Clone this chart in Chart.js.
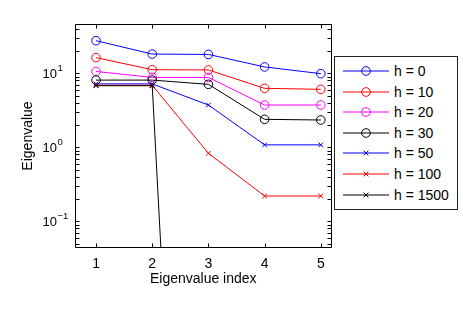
<!DOCTYPE html>
<html>
<head>
<meta charset="utf-8">
<script src="https://cdn.jsdelivr.net/npm/chart.js@4.4.1/dist/chart.umd.min.js"></script>
<style>
html, body { margin: 0; padding: 0; background: #fff; }
#wrap { position: relative; width: 463px; height: 310px; }
#legend {
    position: absolute; left: 334px; top: 56px; width: 122px; height: 152px;
    border: 1px solid #222; background: #fff;
    font-family: "Liberation Sans", Arial, sans-serif; font-size: 14px; color: #000;
}
.row { position: absolute; left: 0; height: 20px; width: 122px; }
.row svg { position: absolute; left: 8px; top: 0; }
.row span { position: absolute; left: 59px; top: 1px; line-height: 18px; white-space: nowrap; }
</style>
</head>
<body>
<div id="wrap">
    <canvas id="eigChart" width="463" height="310"></canvas>
    <div id="legend"></div>
</div>
<script>
// eigenvalues per h
const indices = [1, 2, 3, 4, 5];
const labels = ['h = 0', 'h = 10', 'h = 20', 'h = 30', 'h = 50', 'h = 100', 'h = 1500'];
const h0 = [27.6, 18.2, 18.0, 12.2, 9.9];
const h10 = [16.3, 11.2, 11.1, 6.27, 6.08];
const h20 = [10.6, 8.8, 8.8, 3.73, 3.73];
const h30 = [8.1, 8.1, 7.1, 2.39, 2.34];
const h50 = [7.2, 7.2, 3.73, 1.08, 1.08];
const h100 = [6.9, 6.9, 0.83, 0.22, 0.22];
const h1500 = [6.8, 6.8, 4e-14, 3e-14, 3e-14];
const colors = ['#0000ff', '#ff0000', '#ff00ff', '#000000', '#0000ff', '#ff0000', '#000000'];
const markers = ['circle', 'circle', 'circle', 'circle', 'crossRot', 'crossRot', 'crossRot'];

const xTicks = [1, 2, 3, 4, 5];
const yTicks = [0.1, 1, 10];
const xMin = 0.626, xMax = 5.19;
const yMin = 0.0436, yMax = 46.4;

const FONT = '"Liberation Sans", Arial, sans-serif';
const allSeries = [h0, h10, h20, h30, h50, h100, h1500];

// box, inward ticks, and 10^n labels like the matlab axes
const axesBox = {
    id: 'axesBox',
    afterDatasetsDraw(chart) {
        const { ctx, chartArea: a, scales: { x, y } } = chart;
        const L = Math.round(a.left) + 0.5, R = Math.round(a.right) - 0.5;
        const T = Math.round(a.top) + 0.5, B = Math.round(a.bottom) - 0.5;
        const tl = 4;
        ctx.save();
        ctx.strokeStyle = '#000';
        ctx.lineWidth = 1;
        ctx.beginPath();
        ctx.rect(L, T, R - L, B - T);
        xTicks.forEach(v => {
            const px = Math.round(x.getPixelForValue(v)) + 0.5;
            ctx.moveTo(px, B); ctx.lineTo(px, B - tl);
            ctx.moveTo(px, T); ctx.lineTo(px, T + tl);
        });
        for (let e = -2; e <= 1; e++) {
            for (let m = 1; m <= 9; m++) {
                const v = m * Math.pow(10, e);
                if (v < yMin || v > yMax) continue;
                const py = Math.round(y.getPixelForValue(v)) + 0.5;
                ctx.moveTo(L, py); ctx.lineTo(L + tl, py);
                ctx.moveTo(R, py); ctx.lineTo(R - tl, py);
            }
        }
        ctx.stroke();

        ctx.fillStyle = '#000';
        ctx.textAlign = 'left';
        ctx.textBaseline = 'alphabetic';
        yTicks.forEach(v => {
            const py = y.getPixelForValue(v);
            const exp = Math.round(Math.log10(v));
            const base = '10';
            ctx.font = '13px ' + FONT;
            const bx = 42.5;
            ctx.fillText(base, bx, py + 4.6);
            const w = ctx.measureText(base).width;
            ctx.font = '9.5px ' + FONT;
            ctx.fillText(exp < 0 ? '\u2212' + Math.abs(exp) : String(exp), bx + w + 0.5, py - 2.4);
        });
        ctx.restore();
    }
};

const datasets = allSeries.map((vals, i) => ({
    label: labels[i],
    data: vals,
    borderColor: colors[i],
    backgroundColor: 'rgba(0,0,0,0)',
    borderWidth: 1,
    pointStyle: markers[i],
    pointRadius: markers[i] === 'circle' ? 4.3 : 3.4,
    pointBorderWidth: 1,
    pointBorderColor: colors[i],
    pointBackgroundColor: 'rgba(0,0,0,0)',
    tension: 0,
    fill: false,
    clip: 0,
    order: allSeries.length - 1 - i
}));

new Chart(document.getElementById('eigChart'), {
    type: 'line',
    data: { labels: indices, datasets: datasets },
    options: {
        responsive: false,
        animation: false,
        events: [],
        layout: { padding: { left: 0, right: 131.5, top: 24, bottom: 0 } },
        plugins: { legend: { display: false }, tooltip: { enabled: false } },
        scales: {
            x: {
                type: 'linear',
                min: xMin, max: xMax,
                afterBuildTicks: s => { s.ticks = xTicks.map(v => ({ value: v })); },
                afterFit: s => { s.height = 62; },
                grid: { display: false, drawTicks: false },
                border: { display: false },
                ticks: { color: '#000', font: { family: FONT, size: 14 }, padding: 8, maxRotation: 0 },
                title: { display: true, text: 'Eigenvalue index', color: '#000', font: { family: FONT, size: 14 }, padding: { top: 0, bottom: 22.5 } }
            },
            y: {
                type: 'logarithmic',
                min: yMin, max: yMax,
                afterBuildTicks: s => { s.ticks = yTicks.map(v => ({ value: v })); },
                afterFit: s => { s.width = 75; },
                grid: { display: false, drawTicks: false },
                border: { display: false },
                ticks: { display: false },
                title: { display: true, text: 'Eigenvalue', color: '#000', font: { family: FONT, size: 14 }, padding: { top: 19.5, bottom: 0 } }
            }
        }
    },
    plugins: [axesBox]
});

// legend: line + marker + text, same order as the series
const legend = document.getElementById('legend');
labels.forEach((lab, i) => {
    const row = document.createElement('div');
    row.className = 'row';
    row.style.top = (4 + i * 20.6) + 'px';
    const c = colors[i];
    let mk;
    if (markers[i] === 'circle') {
        mk = `<circle cx="23" cy="10" r="4.3" fill="none" stroke="${c}" stroke-width="1"/>`;
    } else {
        mk = `<path d="M20.6 7.6 L25.4 12.4 M25.4 7.6 L20.6 12.4" stroke="${c}" stroke-width="1"/>`;
    }
    row.innerHTML = `<svg width="48" height="20"><line x1="0" y1="10" x2="46" y2="10" stroke="${c}" stroke-width="1"/>${mk}</svg><span>${lab}</span>`;
    legend.appendChild(row);
});
</script>
</body>
</html>
